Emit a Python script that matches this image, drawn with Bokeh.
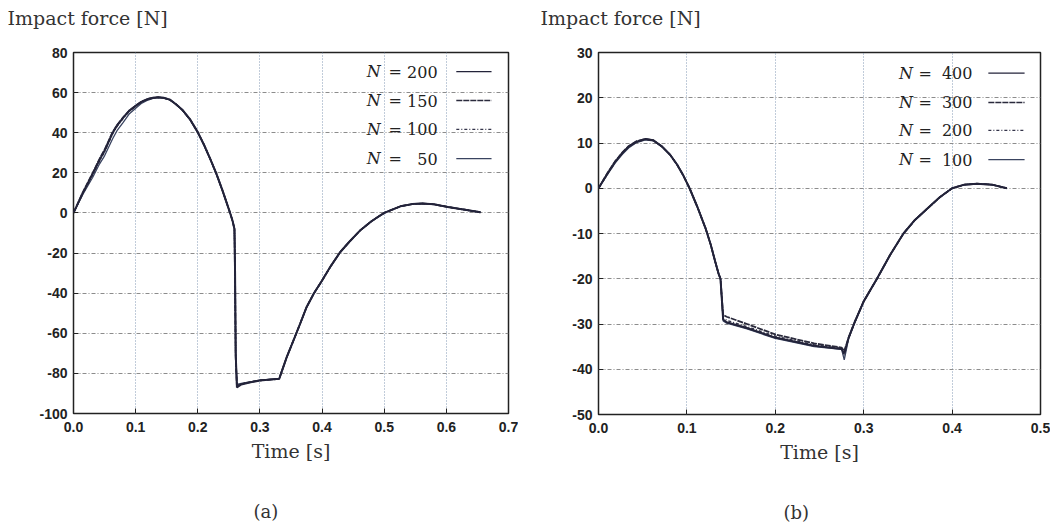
from bokeh.plotting import figure
from bokeh.layouts import row
from bokeh.models import FixedTicker, Range1d, Title, NumeralTickFormatter
from bokeh.core.properties import value
from bokeh.embed import file_html
from bokeh.resources import INLINE

# ---------------- data: panel (a) ----------------
a_labels = ["200", "150", "100", "50"]
a_t = [0, 0.015, 0.031, 0.042, 0.05, 0.063, 0.07, 0.08, 0.09, 0.101, 0.11, 0.12,
       0.128, 0.136, 0.145, 0.155, 0.165, 0.175, 0.188, 0.2, 0.21, 0.22, 0.23,
       0.24, 0.246, 0.252, 0.256, 0.259, 0.26, 0.261, 0.263, 0.27, 0.285, 0.3,
       0.331, 0.343, 0.356, 0.365, 0.375, 0.387, 0.4, 0.414, 0.429, 0.445,
       0.461, 0.48, 0.5, 0.526, 0.545, 0.561, 0.58, 0.602, 0.63, 0.655]
a_f200 = [0, 10, 19.6, 26.5, 31, 40, 43.5, 47.5, 51, 53.6, 55.5, 56.8,
          57.4, 57.7, 57.4, 56.5, 54.2, 51.5, 46.5, 40.3, 34, 27, 19.5,
          11, 5.5, 0, -4, -8, -30, -70, -87, -85.5, -84.4, -83.6,
          -82.7, -72, -62, -55, -47, -40, -33.7, -26.5, -19.6, -14,
          -8.8, -4, 0, 3.3, 4.4, 4.7, 4.3, 3, 1.6, 0.3]
a_f150 = [0, 10.3, 20.0, 27.0, 31.5, 40.3, 43.8, 47.7, 51.1, 53.7, 55.6, 56.9,
          57.4, 57.7, 57.4, 56.5, 54.2, 51.4, 46.4, 40.2, 34, 27, 19.5,
          11, 5.5, 0, -4, -8, -32, -72, -86.5, -85.3, -84.3, -83.5,
          -82.7, -72, -62, -55, -47, -40, -33.7, -26.5, -19.6, -14,
          -8.8, -4, 0, 3.3, 4.4, 4.7, 4.3, 3, 1.6, 0.3]
a_f100 = [0, 9.6, 19.0, 26.0, 30.5, 39.5, 43.2, 47.2, 50.8, 53.4, 55.4, 56.7,
          57.3, 57.6, 57.3, 56.4, 54.1, 51.4, 46.4, 40.2, 34, 27, 19.5,
          11, 5.5, 0, -4, -8, -31, -71, -86, -85.2, -84.3, -83.5,
          -82.6, -72, -62, -55, -47, -40, -33.7, -26.5, -19.6, -14,
          -8.8, -4, 0, 3.3, 4.4, 4.7, 4.3, 3, 1.6, 0.3]
a_f50 = [0, 9.2, 17.8, 24.5, 28.5, 37.0, 41.0, 45.2, 49.5, 52.5, 54.8, 56.3,
         57.1, 57.5, 57.3, 56.4, 54.1, 51.3, 46.3, 40.0, 33.8, 26.8, 19.3,
         10.8, 5.4, 0, -4, -8, -30, -70, -85.5, -85, -84.2, -83.4,
         -82.6, -72, -62, -55, -47, -40, -33.7, -26.5, -19.6, -14,
         -8.8, -4, 0, 3.3, 4.4, 4.7, 4.3, 3, 1.6, 0.3]
a_series = [a_f200, a_f150, a_f100, a_f50]

# ---------------- data: panel (b) ----------------
b_labels = ["400", "300", "200", "100"]
b_t = [0, 0.01, 0.019, 0.027, 0.034, 0.043, 0.053, 0.062, 0.072, 0.081, 0.089,
       0.096, 0.103, 0.112, 0.121, 0.127, 0.132, 0.136, 0.138, 0.141, 0.145,
       0.168, 0.2, 0.244, 0.275, 0.278, 0.283, 0.29, 0.3, 0.315, 0.33, 0.345,
       0.358, 0.372, 0.386, 0.4, 0.414, 0.428, 0.445, 0.462]
b_f400 = [0, 3.2, 5.9, 7.8, 9.2, 10.3, 10.9, 10.6, 9.2, 7.4, 5.2,
          2.8, 0, -4.2, -8.8, -12.5, -16.2, -19, -20, -29, -29.6,
          -30.9, -33.0, -34.8, -35.5, -36.5, -33, -29.5, -25, -20, -14.7, -10,
          -7, -4.5, -2, 0, 0.8, 1, 0.8, 0]
b_f300 = [0, 3.3, 6.0, 7.9, 9.3, 10.4, 10.9, 10.6, 9.2, 7.4, 5.2,
          2.8, 0, -4.2, -8.8, -12.5, -16.2, -19, -20, -28, -28.4,
          -30.0, -32.3, -34.3, -35.2, -36.0, -33, -29.5, -25, -20, -14.7, -10,
          -7, -4.5, -2, 0, 0.8, 1, 0.8, 0]
b_f200 = [0, 3.1, 5.8, 7.7, 9.1, 10.2, 10.8, 10.6, 9.2, 7.4, 5.2,
          2.8, 0, -4.2, -8.8, -12.5, -16.2, -19, -20, -28.7, -29.2,
          -30.6, -32.7, -34.6, -35.4, -37.0, -33, -29.5, -25, -20, -14.7, -10,
          -7, -4.5, -2, 0, 0.8, 1, 0.8, 0]
b_f100 = [0, 3.0, 5.6, 7.5, 8.9, 10.1, 10.7, 10.5, 9.1, 7.4, 5.2,
          2.8, 0, -4.2, -8.8, -12.5, -16.2, -19, -20, -29.3, -29.8,
          -31.1, -33.2, -35.0, -35.6, -37.9, -33.2, -29.6, -25, -20, -14.7, -10,
          -7, -4.5, -2, 0, 0.8, 1, 0.8, 0]
b_series = [b_f400, b_f300, b_f200, b_f100]

line_dashes = ["solid", "6 1", "3 2 1 2", "solid"]
line_colors = ["#23233a", "#2a2a3c", "#34344a", "#3a4460"]
line_widths = [2.0, 1.8, 1.5, 1.3]

SERIF = "DejaVu Serif"
TICKFONT = "'Liberation Sans Narrow', 'Liberation Sans', sans-serif"


def make_panel(t, series, labels, xmax, ymin, ymax, xstep, ystep, caption,
               fw, fh, bl, br, bt, bb, title_off, cap_off, leg):
    p = figure(frame_width=fw, frame_height=fh, output_backend="svg",
               toolbar_location=None, x_range=Range1d(0, xmax),
               y_range=Range1d(ymin, ymax), min_border_left=bl,
               min_border_right=br, min_border_top=bt, min_border_bottom=bb,
               background_fill_color="white", border_fill_color="white")
    p.outline_line_color = "#222222"
    p.outline_line_width = 1.5
    nx = int(round(xmax / xstep))
    xt = [round(i * xstep, 3) for i in range(nx + 1)]
    yt = list(range(ymin, ymax + 1, ystep))
    p.xaxis.ticker = FixedTicker(ticks=xt)
    p.xaxis.formatter = NumeralTickFormatter(format="0.0")
    p.yaxis.ticker = FixedTicker(ticks=yt)
    p.yaxis.formatter = NumeralTickFormatter(format="0")
    for ax in list(p.xaxis) + list(p.yaxis):
        ax.axis_line_color = None
        ax.major_tick_in = 5
        ax.major_tick_out = 0
        ax.major_tick_line_color = "#222222"
        ax.minor_tick_line_color = None
        ax.major_label_text_font = TICKFONT
        ax.major_label_text_font_style = "bold"
        ax.major_label_text_font_size = "14px"
        ax.major_label_text_color = "#222222"
    p.yaxis.major_label_standoff = 6
    p.xaxis.major_label_standoff = 8
    p.xaxis.axis_label = "Time [s]"
    p.xaxis.axis_label_text_font = SERIF
    p.xaxis.axis_label_text_font_style = "normal"
    p.xaxis.axis_label_text_font_size = "19px"
    p.xaxis.axis_label_text_color = "#333333"
    p.xaxis.axis_label_standoff = 5

    p.xgrid.grid_line_color = "#8298b4"
    p.xgrid.grid_line_dash = "1 2"
    p.xgrid.grid_line_width = 1
    p.ygrid.grid_line_color = "#8c8c8c"
    p.ygrid.grid_line_dash = "4 2 1 2"
    p.ygrid.grid_line_width = 1

    # curves (last series first so the first legend entry lies on top)
    for f, dash, col, w in reversed(list(zip(series, line_dashes, line_colors, line_widths))):
        p.line(t, f, line_color=col, line_width=w, line_dash=dash)

    # manual legend (text left, line sample right), placed by frame fractions
    xr = xmax
    yr = ymax - ymin
    n_x = leg["n"] * xr
    eq_x = leg["eq"] * xr
    num_x = leg["num"] * xr
    l0 = leg["l0"] * xr
    l1 = leg["l1"] * xr
    for i, lab in enumerate(labels):
        yy = ymax - leg["rows"][i] * yr
        p.text([n_x], [yy], text=["N"], text_font=value(SERIF),
               text_font_style="italic", text_font_size="16px",
               text_baseline="middle", text_align="left", text_color="#222222")
        p.text([eq_x], [yy], text=["="], text_font=value(SERIF),
               text_font_size="16px", text_baseline="middle",
               text_align="left", text_color="#222222")
        p.text([num_x], [yy], text=[lab], text_font=value(SERIF),
               text_font_size="16px", text_baseline="middle",
               text_align="right", text_color="#222222")
        p.line([l0, l1], [yy, yy], line_color=line_colors[i], line_width=1.4,
               line_dash=line_dashes[i])

    # y-axis title, horizontal at the top-left (a second, empty line lifts it)
    p.add_layout(Title(text="Impact force [N]\n", align="left", offset=title_off,
                       text_font=SERIF, text_font_style="normal",
                       text_font_size="19px", text_color="#333333", standoff=4,
                       text_line_height=1.0),
                 "above")
    # sub-figure caption (a leading empty line pushes it down)
    p.add_layout(Title(text="\n" + caption, align="left", offset=cap_off,
                       text_font=SERIF, text_font_style="normal",
                       text_font_size="18px", text_color="#333333", standoff=4,
                       text_line_height=1.5),
                 "below")
    return p


pa = make_panel(a_t, a_series, a_labels, 0.7, -100, 80, 0.1, 20, "(a)",
                435, 361, 73, 10, 52, 116, -66, 180,
                dict(n=0.674, eq=0.724, num=0.837, l0=0.880, l1=0.961,
                     rows=[0.053, 0.133, 0.213, 0.294]))
pb = make_panel(b_t, b_series, b_labels, 0.5, -50, 30, 0.1, 10, "(b)",
                442, 362, 80, 10, 51, 117, -58, 185,
                dict(n=0.680, eq=0.724, num=0.846, l0=0.882, l1=0.964,
                     rows=[0.057, 0.138, 0.215, 0.296]))

layout = row(pa, pb)
open("out.html", "w").write(file_html(layout, INLINE))
